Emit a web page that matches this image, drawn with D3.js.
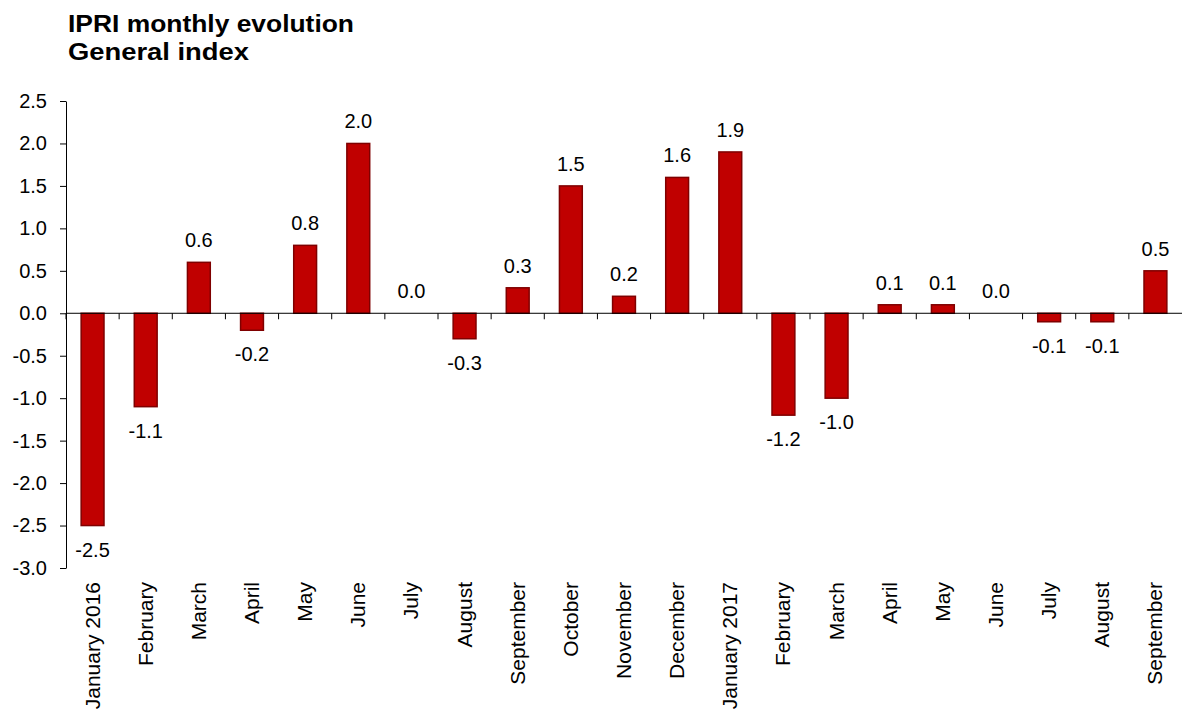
<!DOCTYPE html>
<html>
  <head>
    <meta charset="utf-8" />
    <script src="https://cdn.jsdelivr.net/npm/d3@7"></script>
    <style>
      body { margin: 0; background: #fff; }
      text { font-family: "Liberation Sans", Arial, sans-serif; fill: #000; }
      .title { font-size: 23px; font-weight: bold; }
      .axis text { font-size: 20px; }
      .axis path, .axis line { stroke: #000; }
      .val { font-size: 20px; }
      .bar { fill: #c00000; stroke: #7f0000; stroke-width: 1.5; }
    </style>
  </head>
  <body>
    <div id="chart"></div>
    <script>
var months = ["January 2016", "February", "March", "April", "May", "June", "July",
  "August", "September", "October", "November", "December", "January 2017",
  "February", "March", "April", "May", "June", "July", "August", "September"];
var values = [-2.5, -1.1, 0.6, -0.2, 0.8, 2.0, 0.0, -0.3, 0.3, 1.5, 0.2, 1.6, 1.9,
  -1.2, -1.0, 0.1, 0.1, 0.0, -0.1, -0.1, 0.5];
var yTicks = [2.5, 2.0, 1.5, 1.0, 0.5, 0.0, -0.5, -1.0, -1.5, -2.0, -2.5, -3.0];

var width = 1182, height = 709;
var fmt = function(d) { return d3.format(".1f")(d).replace("−", "-"); };

var svg = d3.select("#chart").append("svg")
  .attr("width", width)
  .attr("height", height);

svg.append("text").attr("class", "title").attr("x", 68).attr("y", 32)
  .attr("textLength", 286).attr("lengthAdjust", "spacingAndGlyphs")
  .text("IPRI monthly evolution");
svg.append("text").attr("class", "title").attr("x", 68).attr("y", 60)
  .attr("textLength", 181).attr("lengthAdjust", "spacingAndGlyphs")
  .text("General index");

// index positions so repeated month names stay separate bands
var x = d3.scaleBand()
  .domain(d3.range(months.length))
  .range([66, 1182])
  .paddingInner(0.57)
  .paddingOuter(0.285);

var y = d3.scaleLinear().domain([-3, 2.5]).range([568, 101]);

// y axis
var yAxis = svg.append("g").attr("class", "axis")
  .attr("transform", "translate(66,0)")
  .call(d3.axisLeft(y).tickValues(yTicks).tickSize(6).tickSizeOuter(0).tickPadding(13));
yAxis.selectAll("text").text(fmt);

// bars
svg.selectAll(".bar")
  .data(values)
  .enter()
  .append("rect")
    .attr("class", "bar")
    .attr("x", function(d, i) { return x(i); })
    .attr("width", x.bandwidth())
    .attr("y", function(d) { return y(Math.max(0, d)); })
    .attr("height", function(d) { return Math.abs(y(d) - y(0)); })
    .style("display", function(d) { return d === 0 ? "none" : null; });

// x axis on the zero line, ticks between bands
var gap = (x.step() - x.bandwidth()) / 2;
var xAxis = svg.append("g").attr("class", "axis")
  .attr("transform", "translate(0," + y(0) + ")");
xAxis.append("line").attr("x1", 66).attr("x2", 1182).attr("y1", 0).attr("y2", 0);
xAxis.selectAll(".tk")
  .data(d3.range(months.length))
  .enter()
  .append("line")
    .attr("x1", function(d) { return x(d) - gap; })
    .attr("x2", function(d) { return x(d) - gap; })
    .attr("y1", 0).attr("y2", 6);

// rotated month labels
svg.selectAll(".mlab")
  .data(months)
  .enter()
  .append("text")
    .attr("class", "mlab")
    .style("font-size", "21px")
    .attr("text-anchor", "end")
    .attr("transform", function(d, i) {
      return "translate(" + (x(i) + x.bandwidth() / 2 + 7) + ",582) rotate(-90)";
    })
    .text(function(d) { return d; });

// value labels
svg.selectAll(".val")
  .data(values)
  .enter()
  .append("text")
    .attr("class", "val")
    .attr("text-anchor", "middle")
    .attr("x", function(d, i) { return x(i) + x.bandwidth() / 2; })
    .attr("y", function(d) { return d >= 0 ? y(d) - 15 : y(d) + 31; })
    .text(fmt);
    </script>
  </body>
</html>
